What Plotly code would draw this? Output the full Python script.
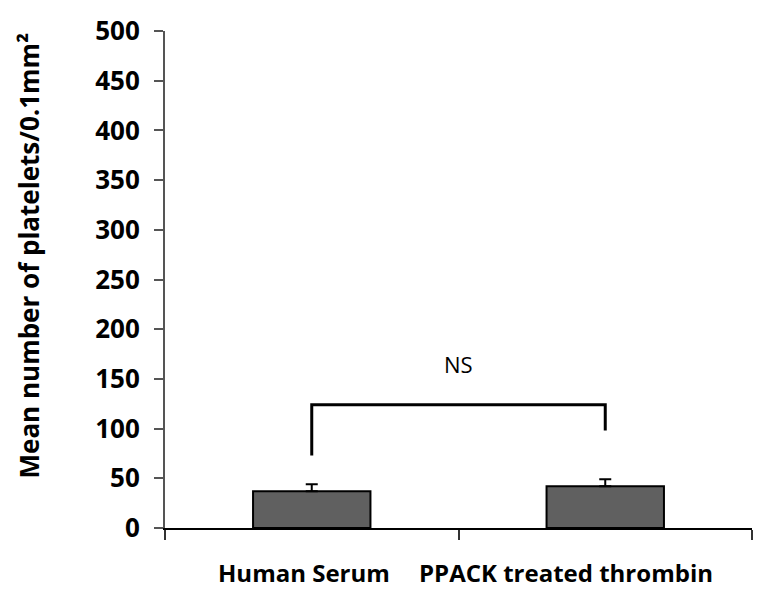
import plotly.graph_objects as go

categories = ["Human Serum", "PPACK treated thrombin"]
means = [37, 42]
errors = [7, 7]
bracket_y = 124
bracket_leg_bottoms = [73, 98]
sig_label = "NS"
sig_y = 165
y_ticks = [0, 50, 100, 150, 200, 250, 300, 350, 400, 450, 500]
y_title = "Mean number of platelets/0.1mm²"

FONT = "Open Sans"

fig = go.Figure()
fig.add_trace(go.Bar(
    x=categories, y=means, width=0.4,
    marker=dict(color="#606060", line=dict(color="#000000", width=2)),
    error_y=dict(type="data", array=errors, arrayminus=[0, 0], symmetric=False,
                 color="#000000", thickness=2, width=6),
    showlegend=False,
))

# significance bracket
xs = [categories[0], categories[0], categories[1], categories[1]]
ys = [bracket_leg_bottoms[0], bracket_y, bracket_y, bracket_leg_bottoms[1]]
fig.add_trace(go.Scatter(x=xs, y=ys, mode="lines",
                         line=dict(color="#000000", width=3),
                         showlegend=False, hoverinfo="skip", cliponaxis=False))
fig.add_annotation(x=0.5, xref="x", y=sig_y, yref="y", text=sig_label,
                   showarrow=False, font=dict(family=FONT, size=22, color="#000000"))

# category labels
shifts = [-8, -39]
for c, s in zip(categories, shifts):
    fig.add_annotation(x=c, xref="x", y=0, yref="y", text="<b>%s</b>" % c,
                       showarrow=False, yanchor="top", yshift=-26, xshift=s,
                       font=dict(family=FONT, size=24, color="#000000"))

# y-axis title
fig.add_annotation(x=-0.232, xref="paper", y=0.548, yref="paper",
                   xanchor="center", yanchor="middle",
                   text="<b>%s</b>" % y_title, textangle=-90, showarrow=False,
                   font=dict(family=FONT, size=26, color="#000000"))

fig.update_layout(
    width=765, height=593,
    margin=dict(l=165, r=13, t=21, b=65),
    paper_bgcolor="#ffffff", plot_bgcolor="#ffffff",
    bargap=0.6,
)
fig.update_xaxes(
    type="category", range=[-0.5, 1.5], showticklabels=False,
    showline=True, linecolor="#000000", linewidth=2,
    ticks="outside", tickson="boundaries", ticklen=10, tickwidth=2, tickcolor="#333333",
    showgrid=False, zeroline=False,
)
fig.update_yaxes(
    range=[0, 500], tickvals=y_ticks,
    showline=True, linecolor="#555555", linewidth=2,
    ticks="outside", ticklen=9, tickwidth=2, tickcolor="#555555",
    tickfont=dict(family=FONT, size=26, color="#000000", weight="bold"),
    ticklabelstandoff=9,
    showgrid=False, zeroline=False,
)

fig.write_html("out.html")
